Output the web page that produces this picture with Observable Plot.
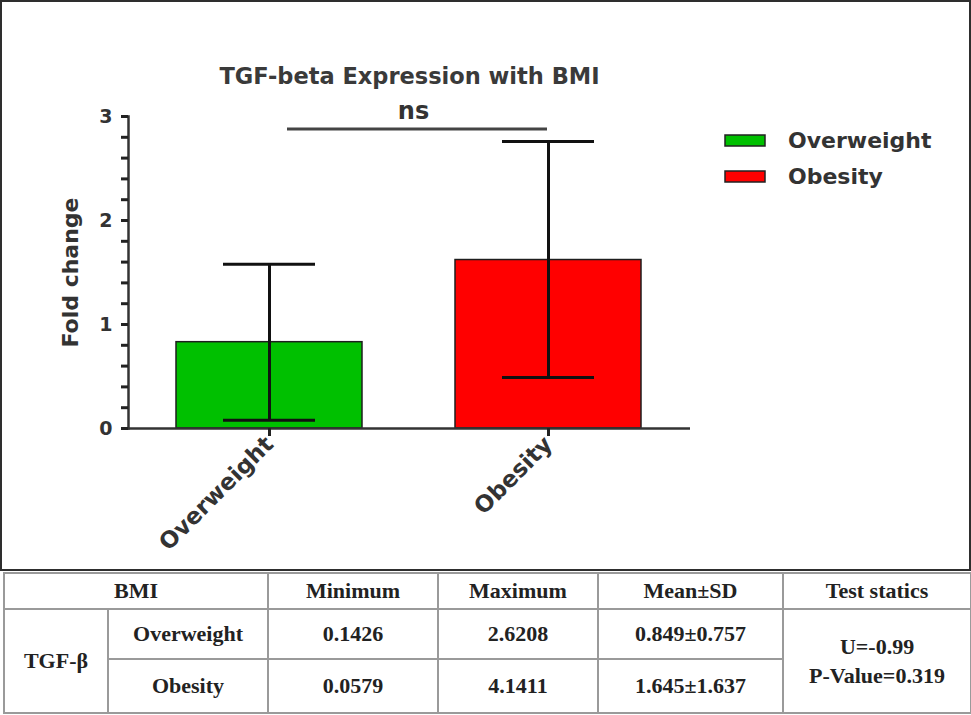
<!DOCTYPE html>
<html><head><meta charset="utf-8">
<script src="https://cdn.jsdelivr.net/npm/d3@7"></script>
<script src="https://cdn.jsdelivr.net/npm/@observablehq/plot@0.6"></script>
<style>
body{margin:0;background:#fff;}
#wrap{position:relative;width:971px;height:715px;overflow:hidden;background:#fff;}
#chart{position:absolute;left:0;top:0;}
#box{position:absolute;left:0;top:0;width:971px;height:571px;box-sizing:border-box;border:2px solid #2e2e2e;pointer-events:none;}
#legend{position:absolute;left:725px;top:122px;}
#legend .lg-swatches{font-family:"DejaVu Sans",sans-serif !important;font-size:22px !important;font-weight:bold;color:#333;margin:0 !important;}
#legend .lg-swatch{height:36px;padding:0 !important;}
#legend .lg-swatch svg{margin-right:23px !important;}
#legend .lg-swatch svg rect{stroke:#222;stroke-width:1.5px;}
#tbl{position:absolute;left:3px;top:572px;width:967px;border-collapse:collapse;table-layout:fixed;font-family:"Liberation Serif",serif;font-weight:bold;font-size:22px;color:#222;}
#tbl td{border:2px solid #9a9a9a;text-align:center;vertical-align:middle;padding:0;}
</style></head><body>
<div id="wrap"><div id="chart"></div><div id="legend"></div><div id="box"></div><table id="tbl"></table></div>
<script>
// ---- chart data ----
const groups = ["Overweight", "Obesity"];
const colors = ["#00c000", "#ff0000"];
const means = [0.83, 1.62];
const lows = [0.08, 0.49];
const highs = [1.58, 2.76];
const yTicks = [0, 1, 2, 3];
const yAllTicks = [0, 0.2, 0.4, 0.6, 0.8, 1, 1.2, 1.4, 1.6, 1.8, 2, 2.2, 2.4, 2.6, 2.8, 3];
const title = "TGF-beta Expression with BMI";
const yLabel = "Fold change";
const sigFrom = "Overweight";
const sigTo = "Obesity";
const sigY = 2.88;
const sigLabel = "ns";

// ---- table data ----
const tableHeader = ["BMI", "Minimum", "Maximum", "Mean±SD", "Test statics"];
const tableGroup = "TGF-β";
const tableRowLabels = ["Overweight", "Obesity"];
const tableMin = ["0.1426", "0.0579"];
const tableMax = ["2.6208", "4.1411"];
const tableMeanSD = ["0.849±0.757", "1.645±1.637"];
const tableTest = ["U=-0.99", "P-Value=0.319"];

const data = groups.map((g, i) => ({group: g, mean: means[i], lo: lows[i], hi: highs[i]}));
const sig = [{from: sigFrom, to: sigTo, y: sigY, label: sigLabel}];

const plot = Plot.plot({
  width: 971, height: 570,
  marginLeft: 128, marginRight: 281, marginTop: 116, marginBottom: 142,
  style: {fontFamily: "DejaVu Sans", color: "#333", background: "transparent"},
  x: {domain: groups, paddingInner: 0.333, paddingOuter: 0.172},
  y: {domain: [0, 3]},
  color: {domain: groups, range: colors},
  marks: [
    Plot.barY(data, {x: "group", y: "mean", fill: "group", stroke: "#1e1e1e", strokeWidth: 1.5}),
    Plot.ruleX(data, {x: "group", y1: "lo", y2: "hi", stroke: "#111", strokeWidth: 3}),
    Plot.tickY(data, {x: "group", y: "lo", stroke: "#111", strokeWidth: 3, insetLeft: 47, insetRight: 47}),
    Plot.tickY(data, {x: "group", y: "hi", stroke: "#111", strokeWidth: 3, insetLeft: 47, insetRight: 47}),
    Plot.ruleY([0], {stroke: "#333", strokeWidth: 2.5}),
    Plot.frame({anchor: "left", stroke: "#333", strokeWidth: 2.5}),
    Plot.axisY({ticks: yAllTicks, tickFormat: d => (yTicks.includes(d) ? String(d) : ""), tickSize: 7, tickPadding: 9, fontSize: 19, fontWeight: "bold", label: null, stroke: "#222", strokeWidth: 3}),
    Plot.axisX({tickSize: 8, tickRotate: -45, tickPadding: 4, fontSize: 23, fontWeight: "bold", label: null, stroke: "#222", strokeWidth: 3}),
    Plot.text([yLabel], {text: d => d, frameAnchor: "left", textAnchor: "middle", rotate: -90, dx: -58, fontSize: 22, fontWeight: "bold", fill: "#333"}),
    Plot.text([title], {text: d => d, frameAnchor: "top", dy: -33, lineAnchor: "bottom", fontSize: 22.5, fontWeight: "bold", fill: "#3a3a3a"}),
    Plot.ruleY(sig, {y: "y", x1: "from", x2: "to", insetLeft: 111, insetRight: 94, stroke: "#444", strokeWidth: 3}),
    Plot.text(sig, {y: "y", text: "label", dy: -10, dx: 4, lineAnchor: "bottom", fontSize: 24, fontWeight: "bold", fill: "#333"})
  ]
});
document.getElementById("chart").appendChild(plot);

const legend = Plot.legend({
  color: {domain: groups, range: colors},
  legend: "swatches", columns: 1, swatchWidth: 40, swatchHeight: 11, className: "lg"
});
document.getElementById("legend").appendChild(legend);

// ---- table ----
const tbl = d3.select("#tbl");
const colW = [104, 160, 170, 160, 185, 188];
tbl.append("colgroup").selectAll("col").data(colW).join("col").style("width", d => d + "px");
const h = tbl.append("tr").style("height", "36px");
h.append("td").attr("colspan", 2).text(tableHeader[0]);
tableHeader.slice(1).forEach(t => h.append("td").text(t));
tableRowLabels.forEach((lab, i) => {
  const r = tbl.append("tr").style("height", i === 0 ? "50px" : "54px");
  if (i === 0) r.append("td").attr("rowspan", 2).text(tableGroup);
  r.append("td").text(lab);
  r.append("td").text(tableMin[i]);
  r.append("td").text(tableMax[i]);
  r.append("td").text(tableMeanSD[i]);
  if (i === 0) {
    const c = r.append("td").attr("rowspan", 2).style("line-height", "29px");
    tableTest.forEach((t, j) => { if (j) c.append("br"); c.append("span").text(t); });
  }
});
</script>
</body></html>
